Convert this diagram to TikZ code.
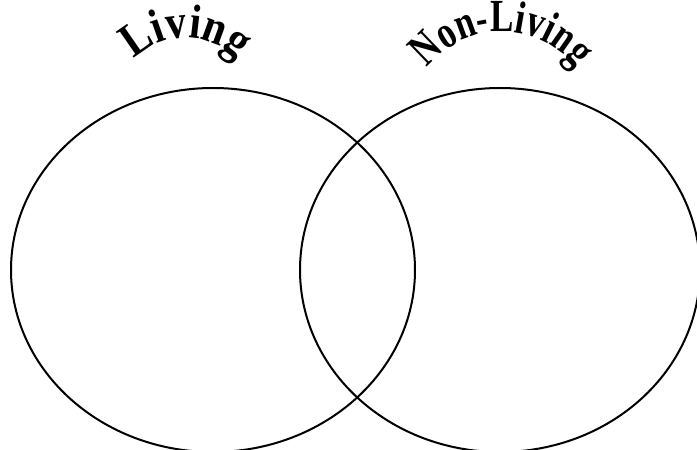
\documentclass[tikz,border=0pt]{standalone}
\usepackage{fontspec}
\setmainfont{Liberation Serif}
\newfontfamily\livingfont[FakeStretch=0.86]{Liberation Serif Bold}
\newfontfamily\nonlivingfont[FakeStretch=0.76]{Liberation Serif Bold}
\usetikzlibrary{decorations.text}
\begin{document}
\begin{tikzpicture}[x=1pt,y=1pt,
  ring/.style={line width=2pt},
  arch/.style={decorate, decoration={text along path, text align=center,
    text={#1}}}]
\useasboundingbox (0,0) rectangle (697,450);
\clip (0,0) rectangle (697,450);
\coordinate (living) at (213,180);
\coordinate (nonliving) at (500,180);
\draw[ring] (living) ellipse [x radius=202pt, y radius=182pt];
\draw[ring] (nonliving) ellipse [x radius=200pt, y radius=182pt];
\path[arch={|\livingfont\fontsize{48}{48}\selectfont|Living}] (186,340) ++(170:72) arc[start angle=170, end angle=10, radius=72pt];
\path[arch={|\nonlivingfont\fontsize{46}{46}\selectfont|Non-Living}] (502,323) ++(170:95) arc[start angle=170, end angle=10, radius=95pt];
\end{tikzpicture}
\end{document}
